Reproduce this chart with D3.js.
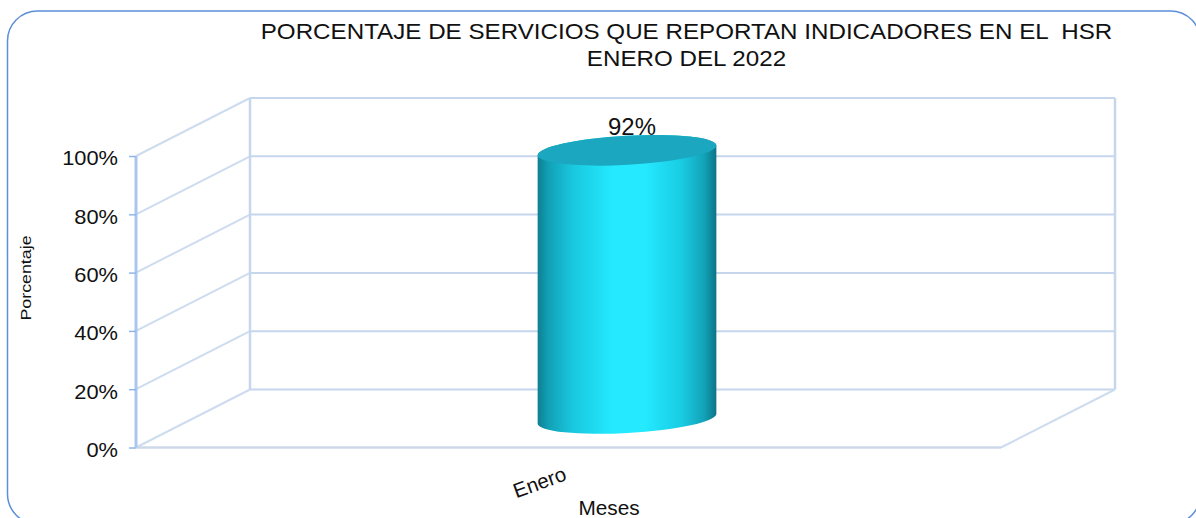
<!DOCTYPE html>
<html>
<head>
<meta charset="utf-8">
<script src="https://cdn.jsdelivr.net/npm/d3@7"></script>
<style>
html,body{margin:0;padding:0;background:#fff;overflow:hidden}
svg{display:block}
text{font-family:"Liberation Sans",Arial,sans-serif;fill:#111;white-space:pre}
</style>
</head>
<body>
<svg id="c" width="1196" height="518"></svg>
<script>
const categories = ["Enero"];
const seriesValues = [92];
const tickValues = [0, 20, 40, 60, 80, 100];
const titleLines = ["PORCENTAJE DE SERVICIOS QUE REPORTAN INDICADORES EN EL  HSR", "ENERO DEL 2022"];
const yAxisTitle = "Porcentaje";
const xAxisTitle = "Meses";

const svg = d3.select("#c");
const depth = {x: 114, y: -58};
const x = d3.scaleBand().domain(categories).range([136, 1001]);
const y = d3.scaleLinear().domain([0, 100]).range([447.5, 156]);
const wallColor = "#c5d6ed", diagColor = "#cddcef", axisColor = "#a9c7ee", tickColor = "#8fb6ea";

// Frame
svg.append("rect").attr("x", 7.5).attr("y", 11).attr("width", 1193).attr("height", 513)
  .attr("rx", 30).attr("fill", "#fff").attr("stroke", "#5b8fd9").attr("stroke-width", 1.5);

const defs = svg.append("defs");
defs.append("filter").attr("id", "soft").append("feGaussianBlur").attr("stdDeviation", 0.7);
const grad = defs.append("linearGradient").attr("id", "cyl");
[[0,"#0e7f92"],[0.06,"#12a0b6"],[0.2,"#19c8df"],[0.42,"#24e9ff"],[0.6,"#24e9ff"],[0.8,"#19cde4"],[0.93,"#13a3b9"],[1,"#0c7486"]]
  .forEach(d => grad.append("stop").attr("offset", d[0]).attr("stop-color", d[1]));

// Grid
const grid = svg.append("g").attr("filter", "url(#soft)").attr("fill", "none");
tickValues.forEach(t => {
  grid.append("line").attr("x1", x.range()[0]).attr("y1", y(t))
    .attr("x2", x.range()[0] + depth.x).attr("y2", y(t) + depth.y)
    .attr("stroke", diagColor).attr("stroke-width", 2);
  grid.append("line").attr("x1", x.range()[0] + depth.x).attr("y1", y(t) + depth.y)
    .attr("x2", x.range()[1] + depth.x).attr("y2", y(t) + depth.y)
    .attr("stroke", wallColor).attr("stroke-width", 2);
});
grid.append("line").attr("x1", x.range()[0] + depth.x).attr("x2", x.range()[0] + depth.x)
  .attr("y1", y(0) + depth.y).attr("y2", y(100) + depth.y).attr("stroke", wallColor).attr("stroke-width", 2.5);
grid.append("line").attr("x1", x.range()[1] + depth.x).attr("x2", x.range()[1] + depth.x)
  .attr("y1", y(0) + depth.y).attr("y2", y(100) + depth.y).attr("stroke", wallColor).attr("stroke-width", 2.5);
grid.append("line").attr("x1", x.range()[1]).attr("y1", y(0))
  .attr("x2", x.range()[1] + depth.x).attr("y2", y(0) + depth.y).attr("stroke", diagColor).attr("stroke-width", 2);
grid.append("line").attr("x1", x.range()[0]).attr("x2", x.range()[1])
  .attr("y1", y(0)).attr("y2", y(0)).attr("stroke", "#cdd8e8").attr("stroke-width", 2.5);
grid.append("line").attr("x1", x.range()[0]).attr("x2", x.range()[0])
  .attr("y1", y(0)).attr("y2", y(100)).attr("stroke", axisColor).attr("stroke-width", 3);

// Y axis
const yAxis = d3.axisLeft(y).tickValues(tickValues).tickSize(7).tickPadding(0).tickFormat(d => d + "%");
const gy = svg.append("g").attr("transform", `translate(${x.range()[0]},0)`).call(yAxis);
gy.select(".domain").remove();
gy.selectAll("line").attr("stroke", tickColor).attr("stroke-width", 1.5);
gy.selectAll("text").attr("font-size", 21).attr("fill", "#111").attr("x", 0).attr("dy", "0.38em")
  .attr("text-anchor", "end").attr("transform", "translate(-18,1) scale(1.04,1)");

// Cylinder
const rx = 89.5, ry = 14.5, tilt = -3.2;
seriesValues.forEach((v, i) => {
  const cx = x(categories[i]) + x.bandwidth() / 2 + depth.x / 2 + 1.5;
  const yb = y(0) + depth.y / 2;
  const yt = y(v) + depth.y / 2;
  const dx = rx * Math.cos(tilt * Math.PI / 180), dy = rx * Math.sin(tilt * Math.PI / 180);
  const path = `M${cx - dx},${yt - dy}A${rx},${ry} ${tilt} 0 1 ${cx + dx},${yt + dy}`
    + `L${cx + dx},${yb + dy}A${rx},${ry} ${tilt} 0 1 ${cx - dx},${yb - dy}Z`;
  svg.append("path").attr("d", path).attr("fill", "url(#cyl)");
  svg.append("ellipse").attr("cx", cx).attr("cy", yt).attr("rx", rx).attr("ry", ry)
    .attr("transform", `rotate(${tilt} ${cx} ${yt})`).attr("fill", "#1aa7bf");
  svg.append("text").attr("transform", `translate(${cx + 5},${yt - 15}) scale(1.04,1)`)
    .attr("text-anchor", "middle").attr("font-size", 23).text(v + "%");
});

// Titles
titleLines.forEach((t, i) => {
  svg.append("text").attr("transform", `translate(686.5,${39 + i * 27}) scale(1.075,1)`)
    .attr("text-anchor", "middle").attr("font-size", 22.5).text(t);
});
svg.append("text").attr("transform", "translate(31,278) rotate(-90) scale(1.15,1)").attr("text-anchor", "middle")
  .attr("font-size", 15.5).text(yAxisTitle);
svg.append("text").attr("transform", "translate(609,515) scale(1.04,1)").attr("text-anchor", "middle")
  .attr("font-size", 20).text(xAxisTitle);
categories.forEach(c => {
  svg.append("text").attr("transform", "translate(542,489) rotate(-20)").attr("text-anchor", "middle")
    .attr("font-size", 20.5).text(c);
});
</script>
</body>
</html>
